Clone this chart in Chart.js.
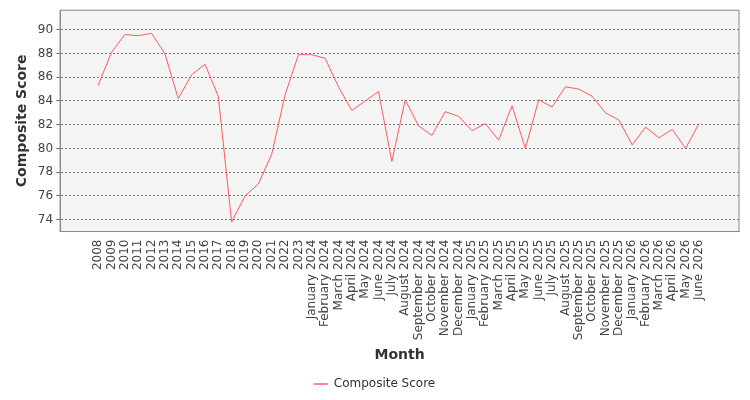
<!DOCTYPE html>
<html><head><meta charset="utf-8">
<script src="https://cdn.jsdelivr.net/npm/chart.js@4"></script>
<style>body{margin:0;background:#fff}#w{width:750px;height:400px}</style></head>
<body><div id="w"><canvas id="c"></canvas></div>
<script>
const categories=["2008","2009","2010","2011","2012","2013","2014","2015","2016","2017","2018","2019","2020","2021","2022","2023","January 2024","February 2024","March 2024","April 2024","May 2024","June 2024","July 2024","August 2024","September 2024","October 2024","November 2024","December 2024","January 2025","February 2025","March 2025","April 2025","May 2025","June 2025","July 2025","August 2025","September 2025","October 2025","November 2025","December 2025","January 2026","February 2026","March 2026","April 2026","May 2026","June 2026"];
const scores=[85.3,88.1,89.6,89.5,89.7,88.0,84.2,86.2,87.1,84.4,73.8,76.0,77.0,79.5,84.5,87.9,87.9,87.6,85.2,83.2,84.0,84.8,78.9,84.1,81.9,81.1,83.1,82.7,81.5,82.1,80.7,83.6,80.0,84.1,83.5,85.2,85.0,84.4,83.0,82.4,80.3,81.8,80.9,81.6,80.0,82.1];
const yTicks=[74,76,78,80,82,84,86,88,90];
const bg={id:'bg',beforeDraw(c){const a=c.chartArea,x=c.ctx;x.save();x.fillStyle='#f4f4f4';x.fillRect(a.left,a.top,a.width,a.height);x.strokeStyle='#888';x.lineWidth=1;x.strokeRect(a.left,a.top,a.width,a.height);x.restore();}};
const F="'DejaVu Sans'";
new Chart(document.getElementById('c'),{type:'line',
data:{datasets:[{label:'Composite Score',data:scores.map((v,i)=>({x:i,y:v})),borderColor:'#ff5a5f',backgroundColor:'#ff5a5f',borderWidth:1,pointRadius:0,tension:0}]},
options:{responsive:true,maintainAspectRatio:false,animation:false,
layout:{padding:{top:3,right:11,left:10}},
plugins:{legend:{position:'bottom',labels:{font:{family:F,size:12},color:'#333',boxWidth:14,boxHeight:0,generateLabels:c=>[{text:'Composite Score',strokeStyle:'#ff5a5f',fillStyle:'#ff5a5f',lineWidth:1,fontColor:'#333'}]}},tooltip:{enabled:false}},
scales:{
x:{type:'linear',min:-2.85,max:48,
afterBuildTicks:a=>{a.ticks=categories.map((_,i)=>({value:i}));},
ticks:{autoSkip:false,maxRotation:90,minRotation:90,font:{family:F,size:12},color:'#444',callback:v=>categories[v]},
grid:{display:false,drawTicks:true,tickLength:5},border:{color:'#888'},
title:{display:true,text:'Month',font:{family:F,size:14,weight:'bold'},color:'#333'}},
y:{min:73.0,max:91.65,
afterBuildTicks:a=>{a.ticks=yTicks.map(v=>({value:v}));},
ticks:{font:{family:F,size:12},color:'#444'},
grid:{color:'#777',drawTicks:true,tickLength:4},border:{color:'#888',dash:[2,2]},
title:{display:true,text:'Composite Score',font:{family:F,size:14,weight:'bold'},color:'#333'}}}},
plugins:[bg]});
</script></body></html>
